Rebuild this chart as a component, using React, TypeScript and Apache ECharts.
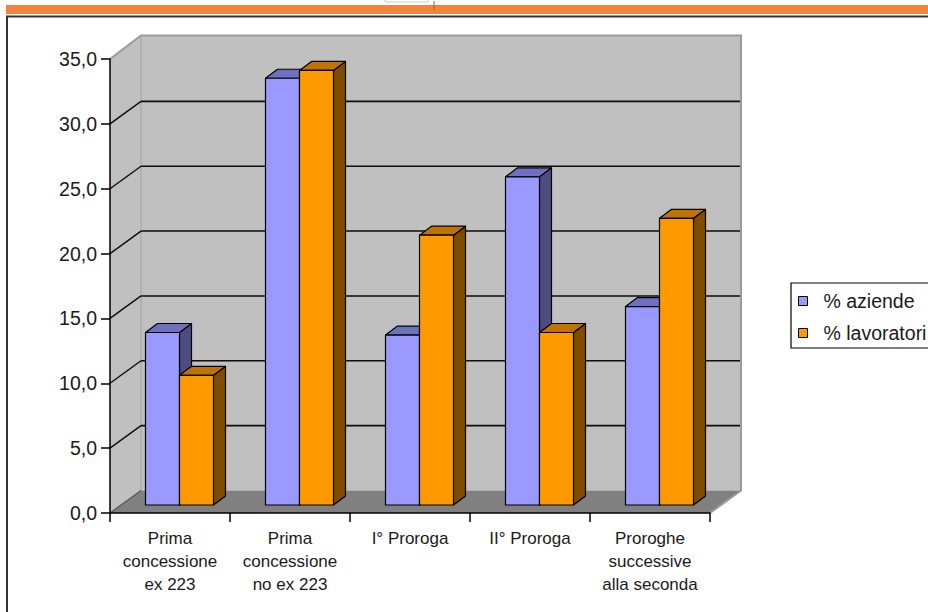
import React, { useEffect, useRef } from "react";
import * as echarts from "echarts";

// Quota percentuale per tipo di concessione
const CATEGORIES = [
  "Prima\nconcessione\nex 223",
  "Prima\nconcessione\nno ex 223",
  "I° Proroga",
  "II° Proroga",
  "Proroghe\nsuccessive\nalla seconda",
];
const SERIES_NAMES = ["% aziende", "% lavoratori"];
const AZIENDE = [13.3, 32.9, 13.1, 25.3, 15.3];
const LAVORATORI = [10.0, 33.5, 20.8, 13.3, 22.1];

const Y_MIN = 0;
const Y_MAX = 35;
const Y_INTERVAL = 5;

const FONT = "'Liberation Sans', Arial, sans-serif";
const TEXT_COLOR = "#1a1a1a";

// pseudo-3D geometry (pixels)
const WALL_DX = 31;
const WALL_DY = -22.5;
const BAR_FRONT_DX = 9.5;
const BAR_FRONT_DY = -8;
const BAR_DEPTH_DX = 12;
const BAR_DEPTH_DY = -9;
const BAR_WIDTH_RATIO = 34 / 120;

const PALETTE = [
  { front: "#9999ff", side: "#4d4d80", top: "#7070c0" },
  { front: "#ff9900", side: "#7f4c00", top: "#bf7300" },
];

function wallsRenderItem(params: any, api: any) {
  const cs = params.coordSys;
  const x0 = cs.x;
  const x1 = cs.x + cs.width;
  const yTop = cs.y;
  const yBot = cs.y + cs.height;
  const dx = WALL_DX;
  const dy = WALL_DY;
  const children: any[] = [];

  children.push({
    type: "rect",
    shape: { x: x0 + dx, y: yTop + dy - 1, width: x1 - x0, height: yBot - yTop + 1 },
    style: { fill: "#c0c0c0" },
  });
  children.push({
    type: "polygon",
    shape: {
      points: [
        [x0, yTop],
        [x0 + dx, yTop + dy - 1],
        [x0 + dx, yBot + dy],
        [x0, yBot],
      ],
    },
    style: { fill: "#c0c0c0" },
  });
  children.push({
    type: "polygon",
    shape: {
      points: [
        [x0, yBot],
        [x1, yBot],
        [x1 + dx, yBot + dy],
        [x0 + dx, yBot + dy],
      ],
    },
    style: { fill: "#808080" },
  });
  // edge between the side wall and the back wall
  children.push({
    type: "line",
    shape: { x1: x0 + dx, y1: yTop + dy, x2: x0 + dx, y2: yBot + dy },
    style: { stroke: "#a6a6a6", lineWidth: 1.2 },
  });
  // grid lines on back and side walls
  for (let v = Y_MIN + Y_INTERVAL; v < Y_MAX; v += Y_INTERVAL) {
    const y = api.coord([0, v])[1];
    children.push({
      type: "line",
      shape: { x1: x0 + dx, y1: y + dy, x2: x1 + dx, y2: y + dy },
      style: { stroke: "#0d0d0d", lineWidth: 1.6 },
    });
    children.push({
      type: "line",
      shape: { x1: x0, y1: y, x2: x0 + dx, y2: y + dy },
      style: { stroke: "#0d0d0d", lineWidth: 1.4 },
    });
  }
  children.push({
    type: "line",
    shape: { x1: x0, y1: yBot, x2: x0 + dx, y2: yBot + dy },
    style: { stroke: "#555", lineWidth: 1.2 },
  });
  // outer wall border
  children.push({
    type: "polyline",
    shape: {
      points: [
        [x0, yTop],
        [x0 + dx, yTop + dy - 1],
        [x1 + dx, yTop + dy - 1],
        [x1 + dx, yBot + dy],
        [x1, yBot],
      ],
    },
    style: { stroke: "#9a9a9a", lineWidth: 2, fill: "none" },
  });
  return { type: "group", children };
}

function makeBarRenderItem(seriesIdx: number) {
  const colors = PALETTE[seriesIdx];
  return (params: any, api: any) => {
    const idx = api.value(0);
    const val = api.value(1);
    const base = api.coord([idx, 0]);
    const top = api.coord([idx, val]);
    const band = api.size([1, 0])[0];
    const w = band * BAR_WIDTH_RATIO;
    const xa = base[0] + (seriesIdx === 0 ? -w : 0) + BAR_FRONT_DX;
    const xb = xa + w;
    const yb = base[1] + BAR_FRONT_DY;
    const yt = top[1] + BAR_FRONT_DY;
    const ddx = BAR_DEPTH_DX;
    const ddy = BAR_DEPTH_DY;
    const stroke = { stroke: "#000", lineWidth: 1.2, lineJoin: "round" };
    return {
      type: "group",
      children: [
        {
          type: "polygon",
          shape: {
            points: [
              [xb, yt],
              [xb + ddx, yt + ddy],
              [xb + ddx, yb + ddy],
              [xb, yb],
            ],
          },
          style: { fill: colors.side, ...stroke },
        },
        {
          type: "polygon",
          shape: {
            points: [
              [xa, yt],
              [xb, yt],
              [xb + ddx, yt + ddy],
              [xa + ddx, yt + ddy],
            ],
          },
          style: { fill: colors.top, ...stroke },
        },
        {
          type: "rect",
          shape: { x: xa, y: yt, width: w, height: yb - yt },
          style: { fill: colors.front, ...stroke },
        },
      ],
    };
  };
}

export default function App() {
  const ref = useRef<HTMLDivElement>(null);

  useEffect(() => {
    if (!ref.current) return;
    const chart = echarts.init(ref.current, undefined, { renderer: "svg" });
    const seriesValues = [AZIENDE, LAVORATORI];

    chart.setOption({
      animation: false,
      backgroundColor: "#ffffff",
      grid: { left: 110, right: 218, top: 59, bottom: 99, containLabel: false },
      xAxis: {
        type: "category",
        data: CATEGORIES,
        z: 5,
        axisLine: { show: true, lineStyle: { color: "#000", width: 1.5 } },
        axisTick: { show: true, interval: 0, length: 9, lineStyle: { color: "#000", width: 1.5 } },
        axisLabel: {
          interval: 0,
          margin: 14,
          fontSize: 17,
          lineHeight: 23,
          fontFamily: FONT,
          color: TEXT_COLOR,
        },
        splitLine: { show: false },
      },
      yAxis: {
        type: "value",
        min: Y_MIN,
        max: Y_MAX,
        interval: Y_INTERVAL,
        z: 5,
        axisLine: { show: true, lineStyle: { color: "#000", width: 1.5 } },
        axisTick: { show: true, length: 9, lineStyle: { color: "#000", width: 1.5 } },
        axisLabel: {
          margin: 13,
          fontSize: 19.5,
          fontFamily: FONT,
          color: TEXT_COLOR,
          formatter: (v: number) => v.toFixed(1).replace(".", ","),
        },
        splitLine: { show: false },
      },
      legend: {
        orient: "vertical",
        left: 791,
        top: 283,
        icon: "rect",
        itemWidth: 9,
        itemHeight: 9,
        itemGap: 12,
        selectedMode: false,
        borderColor: "#000",
        borderWidth: 1.2,
        padding: [8, 40, 5, 7],
        textStyle: {
          fontSize: 19.5,
          lineHeight: 20,
          fontFamily: FONT,
          color: TEXT_COLOR,
          padding: [0, 0, 0, 11],
        },
        data: SERIES_NAMES.map((name, i) => ({
          name,
          itemStyle: { color: PALETTE[i].front, borderColor: "#000", borderWidth: 1 },
        })),
      },
      graphic: [
        {
          type: "rect",
          left: 6,
          top: 5,
          shape: { width: 930, height: 9 },
          style: { fill: "#f5823a" },
          silent: true,
        },
        {
          type: "rect",
          shape: { x: 7, y: 16.5, width: 1000, height: 700 },
          style: { fill: "none", stroke: "#333", lineWidth: 2 },
          silent: true,
        },
        {
          type: "rect",
          shape: { x: 385, y: -2, width: 43, height: 4 },
          style: { fill: "#fff", stroke: "#ccc", lineWidth: 1 },
          silent: true,
        },
        {
          type: "line",
          shape: { x1: 434, y1: 1, x2: 434, y2: 10 },
          style: { stroke: "#8a6a50", lineWidth: 1 },
          silent: true,
        },
      ],
      series: [
        {
          type: "custom",
          name: "walls",
          coordinateSystem: "cartesian2d",
          silent: true,
          z: 1,
          data: [[0, 0]],
          encode: { x: 0, y: 1 },
          renderItem: wallsRenderItem,
        },
        ...SERIES_NAMES.map((name, s) => ({
          type: "custom",
          name,
          coordinateSystem: "cartesian2d",
          z: 3 + s,
          itemStyle: { color: PALETTE[s].front },
          data: seriesValues[s].map((v, i) => [i, v]),
          encode: { x: 0, y: 1 },
          renderItem: makeBarRenderItem(s),
        })),
      ],
    });

    return () => chart.dispose();
  }, []);

  return (
    <div
      ref={ref}
      style={{ position: "fixed", left: 0, top: 0, width: 928, height: 612 }}
    />
  );
}
